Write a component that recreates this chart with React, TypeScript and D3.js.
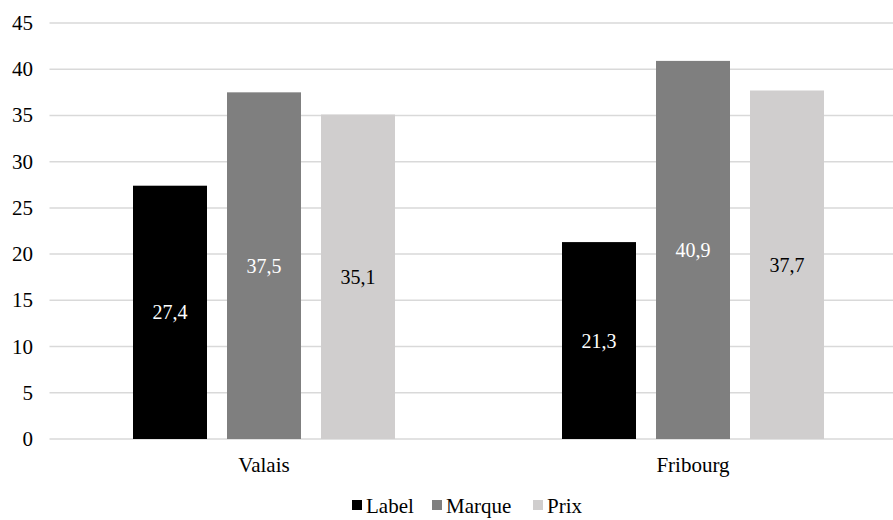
import React from "react";
import * as d3 from "d3";

const categories = ["Valais", "Fribourg"];
const seriesNames = ["Label", "Marque", "Prix"];
const labelValues = [27.4, 21.3];
const marqueValues = [37.5, 40.9];
const prixValues = [35.1, 37.7];
const yTicks = [0, 5, 10, 15, 20, 25, 30, 35, 40, 45];

const colors = ["#000000", "#7f7f7f", "#d0cece"];
const textColors = ["#ffffff", "#ffffff", "#000000"];

const W = 893;
const H = 520;
const SERIF = "Liberation Serif";

type TProps = React.SVGProps<SVGTextElement> & { size?: number };
const T = ({ size = 21, ...props }: TProps) => (
  <text {...props} fontFamily={SERIF} fontSize={size} style={{ fontFamily: SERIF, fontSize: size }} />
);

export default function App() {
  const series = [labelValues, marqueValues, prixValues];
  const x0 = d3.scaleBand<string>().domain(categories).range([49.5, 907.5]).paddingInner(0).paddingOuter(0);
  const groupW = 262;
  const x1 = d3
    .scaleBand<string>()
    .domain(seriesNames)
    .range([0, groupW])
    .paddingInner(20 / 94)
    .paddingOuter(0);
  const y = d3.scaleLinear().domain([0, 45]).range([439, 23]);
  const fmt = (v: number) => v.toFixed(1).replace(".", ",");

  const legendX = [352, 432, 533];

  return (
    <svg
      width={W}
      height={H}
      style={{ position: "absolute", left: 0, top: 0, background: "#fff" }}
    >
      {yTicks.map((t) => (
        <g key={t}>
          <line x1={49.5} x2={907} y1={y(t)} y2={y(t)} stroke="#d9d9d9" strokeWidth={1.5} />
          <T x={33} y={y(t) + 7} textAnchor="end" fill="#000">
            {t}
          </T>
        </g>
      ))}
      {categories.map((c, ci) => {
        const gx = (x0(c) as number) + x0.bandwidth() / 2 - groupW / 2;
        return (
          <g key={c} transform={`translate(${gx},0)`}>
            {seriesNames.map((s, si) => {
              const v = series[si][ci];
              const bx = x1(s) as number;
              const bw = x1.bandwidth();
              return (
                <g key={s}>
                  <rect x={bx} y={y(v)} width={bw} height={y(0) - y(v)} fill={colors[si]} />
                  <T
                    x={bx + bw / 2}
                    y={(y(v) + y(0)) / 2 + 7}
                    textAnchor="middle"
                    size={20}
                    fill={textColors[si]}
                  >
                    {fmt(v)}
                  </T>
                </g>
              );
            })}
          </g>
        );
      })}
      {categories.map((c) => (
        <T key={c} x={(x0(c) as number) + x0.bandwidth() / 2} y={472} textAnchor="middle" fill="#000">
          {c}
        </T>
      ))}
      {seriesNames.map((s, si) => (
        <g key={s} transform={`translate(${legendX[si]},0)`}>
          <rect x={0} y={500} width={10} height={10} fill={colors[si]} />
          <T x={14} y={513} fill="#000">
            {s}
          </T>
        </g>
      ))}
    </svg>
  );
}
